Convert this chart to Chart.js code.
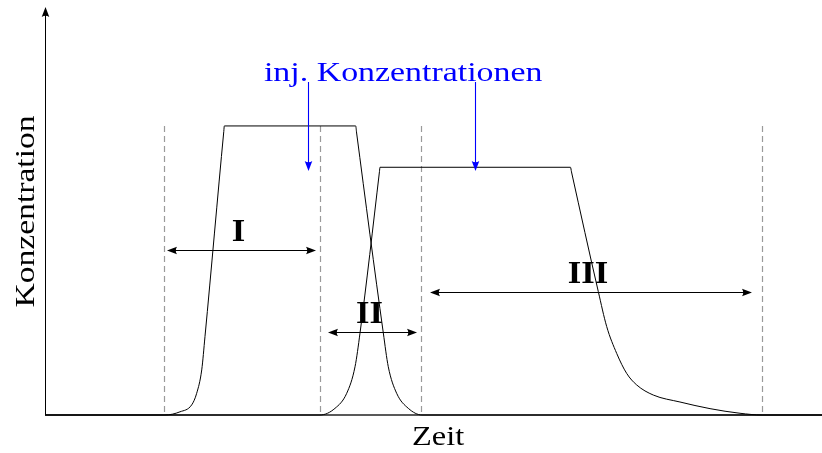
<!DOCTYPE html>
<html>
<head>
<meta charset="utf-8">
<script src="https://cdn.jsdelivr.net/npm/chart.js@4/dist/chart.umd.min.js"></script>
<style>
  html, body { margin: 0; padding: 0; background: #fff; }
  #wrap { width: 822px; height: 453px; }
</style>
</head>
<body>
<div id="wrap"><canvas id="c" width="822" height="453"></canvas></div>
<script>
// ---- data (time in arbitrary units 0..100, concentration relative to first plateau) ----
const peak1Time = [0, 15.44, 17.37, 18.88, 19.52, 20.17, 20.59, 23.01, 23.08, 39.99, 40.09, 43.54, 44.18, 45.26, 46.76, 48.52, 100];
const peak1Conc = [0, 0, 0.011, 0.035, 0.075, 0.156, 0.271, 0.981, 1.0, 1.0, 0.979, 0.284, 0.167, 0.075, 0.023, 0, 0];

const peak2Time = [0, 35.39, 37.32, 38.83, 39.90, 40.54, 43.05, 43.11, 67.63, 67.76, 71.21, 72.29, 73.58, 74.86, 76.15, 78.29, 81.72, 85.59, 89.45, 92.28, 100];
const peak2Conc = [0, 0, 0.023, 0.075, 0.167, 0.283, 0.843, 0.857, 0.857, 0.841, 0.427, 0.306, 0.213, 0.144, 0.104, 0.069, 0.045, 0.022, 0.006, 0, 0];

// region boundaries (dashed lines) and region labels
const boundaryTimes = [15.32, 35.39, 48.39, 92.28];
const boundaryTop = 1.0;
const regionLabels = ['I', 'II', 'III'];
const regionStart = [15.70, 36.42, 49.55];
const regionEnd = [34.88, 47.88, 90.99];
const regionLevel = [0.571, 0.287, 0.426];

// injection concentration annotation
const injLabel = 'inj. Konzentrationen';
const injArrowTimes = [33.85, 55.34];
const injArrowFrom = 1.152;
const injArrowTo = 0.844;
const injLabelTime = 46.1;
const injLabelConc = 1.156;

const xTitle = 'Zeit';
const yTitle = 'Konzentration';

// ---- drawing ----
const SERIF = '"Liberation Serif", "DejaVu Serif", serif';

function toXY(xs, ys) { return xs.map((x, i) => ({ x: x, y: ys[i] })); }

function arrowHead(ctx, x, y, ang, len, half, color) {
  ctx.save();
  ctx.translate(x, y);
  ctx.rotate(ang);
  ctx.fillStyle = color;
  ctx.beginPath();
  ctx.moveTo(0, 0);
  ctx.lineTo(-len, -half);
  ctx.quadraticCurveTo(-len * 0.75, 0, -len, half);
  ctx.closePath();
  ctx.fill();
  ctx.restore();
}

function wideText(ctx, text, x, y, sx, rot) {
  ctx.save();
  ctx.translate(x, y);
  if (rot) ctx.rotate(rot);
  ctx.scale(sx, 1);
  ctx.fillText(text, 0, 0);
  ctx.restore();
}

const annotations = {
  id: 'annotations',
  beforeDatasetsDraw(chart) {
    const ctx = chart.ctx;
    const xs = chart.scales.x, ys = chart.scales.y;
    const area = chart.chartArea;
    // dashed region boundaries
    ctx.save();
    ctx.strokeStyle = '#9a9a9a';
    ctx.lineWidth = 1.2;
    ctx.setLineDash([6, 4]);
    boundaryTimes.forEach(t => {
      const px = Math.round(xs.getPixelForValue(t)) + 0.5;
      ctx.beginPath();
      ctx.moveTo(px, ys.getPixelForValue(boundaryTop));
      ctx.lineTo(px, ys.getPixelForValue(0));
      ctx.stroke();
    });
    ctx.restore();
    // axes
    ctx.save();
    ctx.strokeStyle = '#222';
    ctx.lineWidth = 1.3;
    const y0 = ys.getPixelForValue(0);
    ctx.beginPath();
    ctx.moveTo(area.left, y0);
    ctx.lineTo(area.right, y0);
    ctx.stroke();
    ctx.strokeStyle = '#000';
    ctx.lineWidth = 1;
    ctx.beginPath();
    ctx.moveTo(area.left + 0.5, y0);
    ctx.lineTo(area.left + 0.5, area.top + 6);
    ctx.stroke();
    arrowHead(ctx, area.left + 0.5, area.top - 1, -Math.PI / 2, 10, 3.8, '#000');
    ctx.restore();
  },
  afterDatasetsDraw(chart) {
    const ctx = chart.ctx;
    const xs = chart.scales.x, ys = chart.scales.y;
    const area = chart.chartArea;
    // region double arrows + labels
    ctx.save();
    regionLabels.forEach((lab, i) => {
      const x1 = xs.getPixelForValue(regionStart[i]);
      const x2 = xs.getPixelForValue(regionEnd[i]);
      const py = Math.round(ys.getPixelForValue(regionLevel[i])) + 0.5;
      ctx.strokeStyle = '#000';
      ctx.lineWidth = 1.1;
      ctx.beginPath();
      ctx.moveTo(x1 + 5, py);
      ctx.lineTo(x2 - 5, py);
      ctx.stroke();
      arrowHead(ctx, x1, py, Math.PI, 10, 3.8, '#000');
      arrowHead(ctx, x2, py, 0, 10, 3.8, '#000');
      ctx.fillStyle = '#000';
      ctx.font = 'bold 32px ' + SERIF;
      ctx.textAlign = 'center';
      ctx.textBaseline = 'alphabetic';
      wideText(ctx, lab, (x1 + x2) / 2 - 3, py - 10, 1.08);
    });
    ctx.restore();
    // injection label + arrows
    ctx.save();
    ctx.fillStyle = '#0000ff';
    ctx.strokeStyle = '#0000ff';
    ctx.font = '28px ' + SERIF;
    ctx.textAlign = 'center';
    ctx.textBaseline = 'alphabetic';
    wideText(ctx, injLabel, xs.getPixelForValue(injLabelTime), ys.getPixelForValue(injLabelConc), 1.21);
    ctx.lineWidth = 1.1;
    injArrowTimes.forEach(t => {
      const px = Math.round(xs.getPixelForValue(t)) + 0.5;
      const yTop = ys.getPixelForValue(injArrowFrom);
      const yTip = ys.getPixelForValue(injArrowTo);
      ctx.beginPath();
      ctx.moveTo(px, yTop);
      ctx.lineTo(px, yTip - 5);
      ctx.stroke();
      arrowHead(ctx, px, yTip, Math.PI / 2, 10, 3.8, '#0000ff');
    });
    ctx.restore();
    // axis titles
    ctx.save();
    ctx.fillStyle = '#000';
    ctx.font = '27px ' + SERIF;
    ctx.textAlign = 'center';
    ctx.textBaseline = 'alphabetic';
    wideText(ctx, xTitle, xs.getPixelForValue(50.6), area.bottom + 30, 1.2);
    ctx.font = '28px ' + SERIF;
    wideText(ctx, yTitle, area.left - 11, (area.top + area.bottom) / 2, 1.2, -Math.PI / 2);
    ctx.restore();
  }
};

new Chart(document.getElementById('c'), {
  type: 'line',
  data: {
    datasets: [
      { label: 'Peak 1', data: toXY(peak1Time, peak1Conc) },
      { label: 'Peak 2', data: toXY(peak2Time, peak2Conc) }
    ]
  },
  options: {
    responsive: false,
    animation: false,
    devicePixelRatio: 1,
    layout: { padding: { left: 45, right: 0, top: 8, bottom: 38 } },
    elements: {
      line: { borderColor: '#000', borderWidth: 1, cubicInterpolationMode: 'monotone', fill: false },
      point: { radius: 0, hoverRadius: 0 }
    },
    datasets: { line: { clip: false } },
    scales: {
      x: { type: 'linear', min: 0, max: 100, display: false },
      y: { type: 'linear', min: 0, max: 1.408, display: false }
    },
    plugins: { legend: { display: false }, tooltip: { enabled: false } }
  },
  plugins: [annotations]
});
</script>
</body>
</html>
